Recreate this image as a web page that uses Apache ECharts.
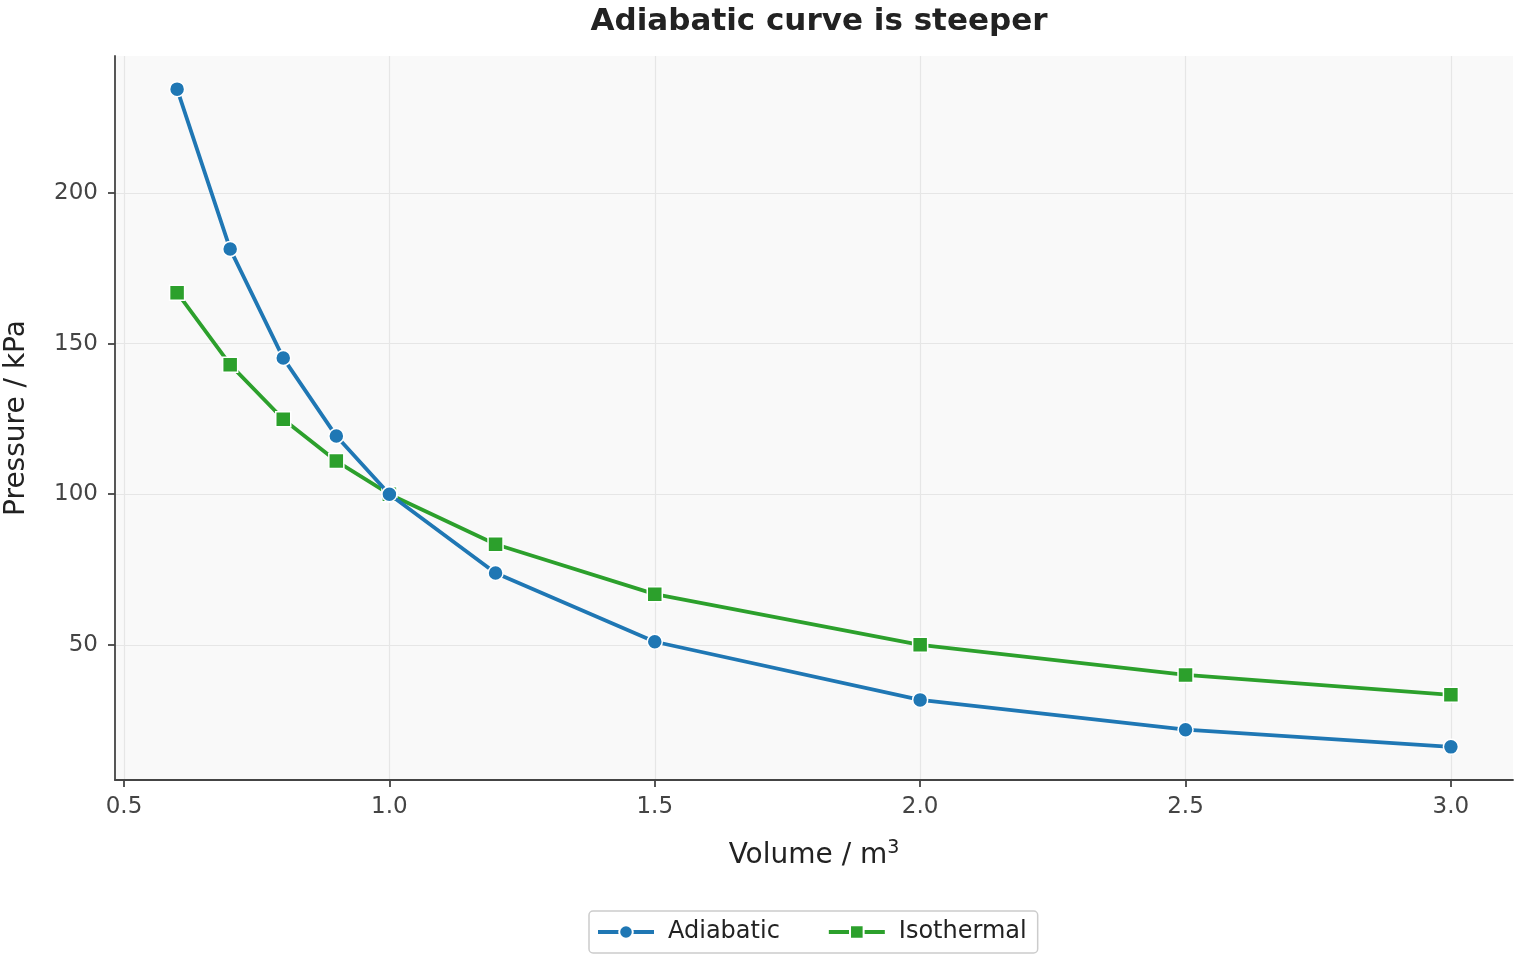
<!DOCTYPE html>
<html>
<head>
<meta charset="utf-8">
<script src="https://cdn.jsdelivr.net/npm/echarts@6/dist/echarts.min.js"></script>
<style>
  html, body { margin: 0; padding: 0; background: #fff; }
  #chart { width: 1520px; height: 960px; }
</style>
</head>
<body>
<div id="chart"></div>
<script>
// volume in m^3
var volumes = [0.6, 0.7, 0.8, 0.9, 1.0, 1.2, 1.5, 2.0, 2.5, 3.0];
// pressure in kPa
var adiabatic = [234.5, 181.4, 145.2, 119.3, 100.0, 73.8, 51.0, 31.7, 21.8, 16.1];
var isothermal = [166.9, 143.0, 124.9, 111.0, 100.0, 83.4, 66.8, 50.0, 40.0, 33.4];
var xTicks = [0.5, 1.0, 1.5, 2.0, 2.5, 3.0];
var yTicks = [50, 100, 150, 200];

var font = 'DejaVu Sans';

function pairs(ys) {
    var out = [];
    for (var i = 0; i < volumes.length; i++) {
        out.push([volumes[i], ys[i]]);
    }
    return out;
}

var chart = echarts.init(document.getElementById('chart'));
var option = {
    animation: false,
    textStyle: { fontFamily: font },
    title: {
        text: 'Adiabatic curve is steeper',
        left: 814,
        textAlign: 'center',
        top: 1,
        textStyle: { fontSize: 31, fontWeight: 'bold', color: '#222', fontFamily: font }
    },
    legend: {
        bottom: 7,
        left: 589,
        itemWidth: 56,
        itemHeight: 17,
        itemGap: 47,
        padding: [9, 11, 9, 7],
        borderColor: '#cccccc',
        borderWidth: 1.5,
        borderRadius: 4,
        lineStyle: { width: 4 },
        textStyle: { fontSize: 24, color: '#222', fontFamily: font, padding: [0, 0, 0, 9] },
        data: ['Adiabatic', 'Isothermal']
    },
    grid: {
        left: 115,
        right: 7,
        top: 56,
        bottom: 180,
        outerBoundsMode: 'none',
        containLabel: false,
        show: true,
        backgroundColor: '#f9f9f9',
        borderWidth: 0
    },
    xAxis: {
        type: 'value',
        min: 0.483,
        max: 3.117,
        name: 'Volume / m{sup|3}',
        nameLocation: 'middle',
        nameGap: 59,
        nameTextStyle: {
            fontSize: 28, color: '#222', fontFamily: font,
            rich: { sup: { fontSize: 19, verticalAlign: 'top', padding: [0, 0, 14, 0], color: '#222', fontFamily: font } }
        },
        axisLine: { show: true, lineStyle: { color: '#444', width: 1.8 } },
        axisTick: { show: true, length: 7, lineStyle: { color: '#444', width: 1.8 }, customValues: xTicks },
        axisLabel: {
            fontSize: 23, color: '#444', margin: 16,
            customValues: xTicks,
            formatter: function (v) { return v.toFixed(1); }
        },
        splitLine: { show: true, lineStyle: { color: '#e6e6e6', width: 1.2 } }
    },
    yAxis: {
        type: 'value',
        min: 5.1,
        max: 245.5,
        name: 'Pressure / kPa',
        nameLocation: 'middle',
        nameGap: 84,
        nameRotate: 90,
        nameTextStyle: { fontSize: 28, color: '#222', fontFamily: font },
        axisLine: { show: true, lineStyle: { color: '#444', width: 1.8 } },
        axisTick: { show: true, length: 7, lineStyle: { color: '#444', width: 1.8 }, customValues: yTicks },
        axisLabel: { fontSize: 23, color: '#444', margin: 17, customValues: yTicks },
        splitLine: { show: true, lineStyle: { color: '#e6e6e6', width: 1.2 } }
    },
    series: [
        {
            name: 'Adiabatic',
            type: 'line',
            data: pairs(adiabatic),
            symbol: 'circle',
            symbolSize: 15,
            color: '#1f77b4',
            lineStyle: { width: 3.8, color: '#1f77b4' },
            itemStyle: { color: '#1f77b4', borderColor: '#fff', borderWidth: 1.5 },
            z: 3
        },
        {
            name: 'Isothermal',
            type: 'line',
            data: pairs(isothermal),
            symbol: 'rect',
            symbolSize: 15,
            color: '#2ca02c',
            lineStyle: { width: 3.8, color: '#2ca02c' },
            itemStyle: { color: '#2ca02c', borderColor: '#fff', borderWidth: 1.5 },
            z: 2
        }
    ]
};
chart.setOption(option);
</script>
</body>
</html>
